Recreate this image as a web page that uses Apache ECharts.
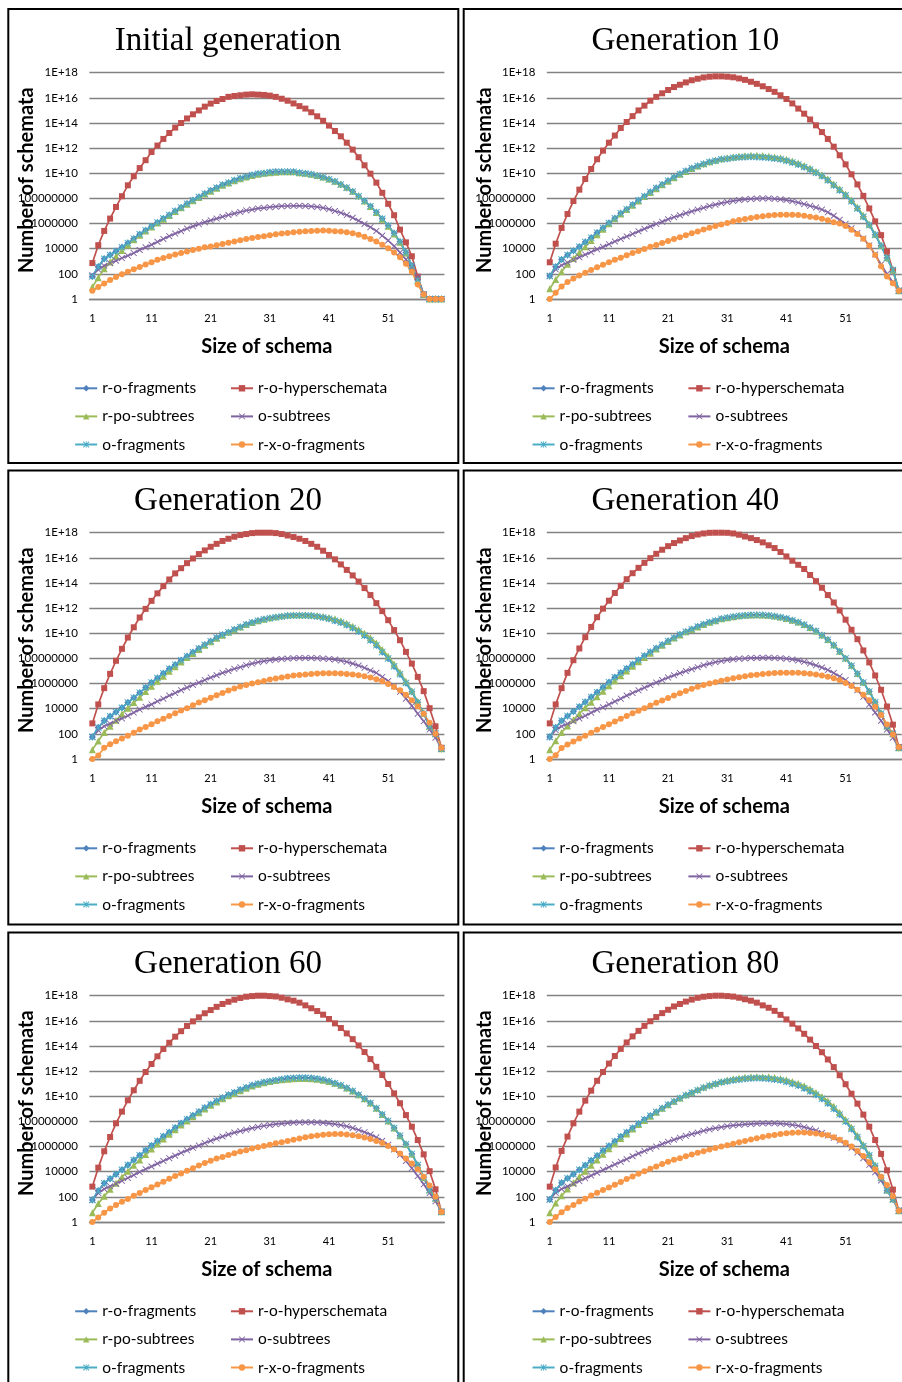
<!DOCTYPE html>
<html>
<head>
<meta charset="utf-8">
<script src="https://cdn.jsdelivr.net/npm/echarts@6/dist/echarts.min.js"></script>
<style>
  html, body { margin: 0; padding: 0; background: #fff; overflow: hidden; }
  #chart { width: 902px; height: 1382px; }
</style>
</head>
<body>
<div id="chart"></div>
<script>
// Schema sizes on the x axis
const sizes = ['1','2','3','4','5','6','7','8','9','10','11','12','13','14','15','16','17','18','19','20',
  '21','22','23','24','25','26','27','28','29','30','31','32','33','34','35','36','37','38','39','40',
  '41','42','43','44','45','46','47','48','49','50','51','52','53','54','55','56','57','58','59','60'];

// Tick labels of the logarithmic y axis (one every two decades)
const yTickLabels = ['1','100','10000','1000000','100000000','1E+10','1E+12','1E+14','1E+16','1E+18'];

const panelTitles = ['Initial generation','Generation 10','Generation 20','Generation 40','Generation 60','Generation 80'];
const seriesNames = ['r-o-fragments','r-o-hyperschemata','r-po-subtrees','o-subtrees','o-fragments','r-x-o-fragments'];

// ---- Initial generation ----
const hyperInit = [7.2e2,1.9e4,2.6e5,2.5e6,2.1e7,1.5e8,1.1e9,5.8e9,2.6e10,1.1e11,
  4.9e11,1.6e12,5.4e12,1.6e13,4.3e13,1.0e14,2.3e14,4.9e14,1.0e15,2.0e15,
  3.5e15,5.6e15,8.1e15,1.2e16,1.4e16,1.6e16,1.8e16,1.9e16,1.8e16,1.7e16,
  1.5e16,1.2e16,8.5e15,5.9e15,3.6e15,2.2e15,1.4e15,7.1e14,3.4e14,1.5e14,
  6.2e13,2.3e13,8.7e12,2.7e12,7.6e11,1.9e11,4.3e10,9.3e9,1.8e9,2.8e8,
  3.7e7,4.6e6,3.3e5,3.2e4,2.5e3,60,2.3,1,1,1];
const oFragInit = [63,370,1600,3200,6300,1.3e4,2.8e4,6.3e4,1.4e5,2.9e5,
  5.8e5,1.2e6,2.5e6,4.8e6,1.0e7,1.9e7,3.8e7,7.1e7,1.3e8,2.4e8,
  4.2e8,7.1e8,1.2e9,1.8e9,2.8e9,4.0e9,5.4e9,7.2e9,9.1e9,1.0e10,
  1.2e10,1.3e10,1.35e10,1.35e10,1.3e10,1.1e10,9.8e9,8.3e9,6.5e9,4.8e9,
  3.3e9,2.2e9,1.3e9,7.2e8,3.5e8,1.5e8,6.3e7,2.4e7,7.9e6,2.4e6,
  6.6e5,1.7e5,3.5e4,5.0e3,450,32,2.3,1,1,1];
const poSubInit = [8.9,50,250,890,2500,7100,2.0e4,5.2e4,1.2e5,2.6e5,
  5.4e5,1.1e6,2.2e6,4.4e6,9.1e6,1.8e7,3.5e7,6.5e7,1.2e8,2.2e8,
  3.8e8,6.5e8,1.1e9,1.7e9,2.5e9,3.6e9,5.0e9,6.8e9,8.5e9,1.0e10,
  1.1e10,1.2e10,1.3e10,1.3e10,1.3e10,1.1e10,1.0e10,8.5e9,6.8e9,5.0e9,
  3.5e9,2.3e9,1.4e9,7.8e8,3.7e8,1.6e8,6.3e7,2.3e7,7.6e6,2.2e6,
  6.0e5,1.5e5,3.2e4,4.5e3,400,28,2.3,1,1,1];
const oSubInit = [79,220,450,710,1100,1800,2800,4500,7900,1.3e4,
  2.1e4,3.5e4,6.0e4,1.0e5,1.6e5,2.5e5,4.0e5,6.0e5,8.9e5,1.3e6,
  1.8e6,2.5e6,3.5e6,4.8e6,6.3e6,8.3e6,1.1e7,1.3e7,1.6e7,1.8e7,
  2.0e7,2.2e7,2.4e7,2.5e7,2.6e7,2.6e7,2.5e7,2.3e7,2.1e7,1.8e7,
  1.4e7,1.0e7,7.2e6,4.7e6,2.9e6,1.7e6,9.3e5,5.2e5,2.6e5,1.1e5,
  4.5e4,1.6e4,5.0e3,1.4e3,320,56,2.3,1,1,1];
const rxoFragInit = [4.6,8.9,17,32,56,93,150,230,350,560,
  850,1300,1800,2500,3400,4600,6000,7900,1.0e4,1.3e4,
  1.5e4,1.9e4,2.4e4,3.0e4,3.8e4,4.8e4,5.9e4,7.2e4,8.7e4,1.0e5,
  1.2e5,1.4e5,1.6e5,1.8e5,2.0e5,2.2e5,2.4e5,2.6e5,2.7e5,2.8e5,
  2.7e5,2.5e5,2.3e5,2.0e5,1.7e5,1.3e5,9.1e4,6.0e4,3.7e4,2.1e4,
  1.1e4,5.0e3,2.1e3,630,150,14,2.3,1,1,1];

// ---- Generation 10 ----
const hyper10 = [830,2.5e4,4.5e5,5.8e6,6.2e7,5.0e8,3.5e9,2.2e10,1.3e11,6.3e11,
  2.7e12,1.0e13,4.0e13,1.2e14,3.5e14,1.0e15,2.4e15,5.9e15,1.2e16,2.3e16,
  4.2e16,7.2e16,1.1e17,1.7e17,2.5e17,3.3e17,4.2e17,4.8e17,5.1e17,5.1e17,
  4.8e17,4.3e17,3.5e17,2.7e17,1.9e17,1.3e17,8.3e16,5.0e16,3.0e16,1.6e16,
  8.1e15,3.6e15,1.4e15,5.5e14,1.9e14,6.5e13,1.9e13,5.4e12,1.3e12,2.7e11,
  5.1e10,8.3e9,1.3e9,1.6e8,1.6e7,1.5e6,1.2e5,6.0e3,190,4.5];
const oFrag10 = [68,370,1400,3200,6900,1.4e4,3.4e4,7.6e4,1.9e5,4.5e5,
  1.1e6,2.6e6,6.5e6,1.4e7,3.2e7,7.1e7,1.5e8,3.2e8,6.8e8,1.3e9,
  2.6e9,4.8e9,8.7e9,1.5e10,2.5e10,3.8e10,5.5e10,7.9e10,1.0e11,1.3e11,
  1.4e11,1.7e11,1.9e11,2.0e11,2.1e11,2.0e11,1.9e11,1.7e11,1.5e11,1.3e11,
  1.0e11,7.2e10,5.0e10,3.2e10,2.0e10,1.1e10,6.0e9,2.8e9,1.1e9,4.5e8,
  1.8e8,6.0e7,1.6e7,3.5e6,7.6e5,1.3e5,1.7e4,1.8e3,200,4.5];
const poSub10 = [6.6,36,150,580,1700,5100,1.4e4,4.5e4,1.3e5,3.5e5,
  9.5e5,2.4e6,5.8e6,1.3e7,2.8e7,6.3e7,1.4e8,2.9e8,6.0e8,1.2e9,
  2.3e9,4.5e9,8.3e9,1.4e10,2.4e10,3.8e10,5.6e10,8.3e10,1.1e11,1.4e11,
  1.7e11,2.0e11,2.3e11,2.5e11,2.7e11,2.7e11,2.6e11,2.3e11,2.0e11,1.7e11,
  1.3e11,9.5e10,6.6e10,4.2e10,2.6e10,1.4e10,7.6e9,3.5e9,1.4e9,5.8e8,
  2.2e8,7.4e7,2.0e7,4.5e6,8.9e5,1.4e5,1.8e4,1.9e3,200,4.5];
const oSub10 = [68,230,480,790,1300,2100,3400,5400,8900,1.4e4,
  2.3e4,3.8e4,6.0e4,9.5e4,1.5e5,2.4e5,3.8e5,6.0e5,9.3e5,1.4e6,
  2.2e6,3.2e6,4.6e6,6.6e6,9.3e6,1.3e7,1.8e7,2.5e7,3.2e7,4.2e7,
  5.2e7,6.3e7,7.4e7,8.3e7,9.1e7,9.8e7,1.0e8,1.0e8,9.3e7,8.5e7,
  7.4e7,6.0e7,4.7e7,3.5e7,2.6e7,1.9e7,1.3e7,7.9e6,4.2e6,2.0e6,
  9.5e5,4.2e5,1.8e5,6.6e4,1.8e4,3.5e3,560,100,22,4.5];
const rxoFrag10 = [1,3.2,10,22,42,74,120,200,330,520,
  830,1300,1900,3000,4500,6600,9500,1.4e4,2.0e4,2.9e4,
  4.2e4,5.9e4,8.3e4,1.2e5,1.7e5,2.3e5,3.3e5,4.6e5,6.3e5,8.5e5,
  1.1e6,1.5e6,1.9e6,2.3e6,2.8e6,3.3e6,3.8e6,4.3e6,4.7e6,5.0e6,
  5.1e6,5.0e6,4.7e6,4.2e6,3.5e6,3.0e6,2.4e6,1.8e6,1.3e6,1.0e6,
  6.3e5,3.2e5,1.5e5,6.3e4,1.8e4,3.2e3,400,63,18,4.5];

// ---- Generation 20 ----
const hyper20 = [680,2.2e4,4.3e5,5.9e6,6.5e7,5.8e8,4.6e9,3.0e10,1.8e11,8.7e11,
  3.8e12,1.5e13,5.6e13,1.9e14,5.8e14,1.5e15,3.8e15,8.9e15,2.0e16,3.9e16,
  7.6e16,1.3e17,2.2e17,3.3e17,4.8e17,6.5e17,7.8e17,9.3e17,1.0e18,1.0e18,
  1.0e18,9.3e17,7.8e17,6.0e17,4.5e17,3.3e17,2.2e17,1.3e17,7.6e16,3.7e16,
  1.7e16,7.6e15,3.0e15,1.1e15,4.0e14,1.3e14,3.9e13,1.1e13,2.5e12,5.8e11,
  1.1e11,1.8e10,2.8e9,3.3e8,3.9e7,3.4e6,2.5e5,1.1e4,400,7.9];
const oFrag20 = [56,320,1100,2500,5500,1.2e4,3.1e4,7.6e4,1.9e5,4.8e5,
  1.2e6,2.8e6,6.6e6,1.5e7,3.2e7,7.2e7,1.5e8,3.1e8,6.2e8,1.2e9,
  2.3e9,4.4e9,7.6e9,1.2e10,2.0e10,3.2e10,5.0e10,7.2e10,9.8e10,1.3e11,
  1.6e11,1.9e11,2.2e11,2.5e11,2.6e11,2.6e11,2.6e11,2.5e11,2.2e11,1.8e11,
  1.4e11,1.0e11,7.2e10,4.5e10,2.6e10,1.4e10,6.6e9,2.8e9,1.1e9,3.3e8,
  9.8e7,2.4e7,5.5e6,1.1e6,2.2e5,3.2e4,4.1e3,400,100,6.6];
const poSub20 = [5.5,27,130,400,1200,3800,1.1e4,3.1e4,8.1e4,2.3e5,
  6.2e5,1.5e6,3.8e6,9.5e6,2.2e7,5.2e7,1.2e8,2.5e8,5.1e8,1.1e9,
  2.1e9,4.0e9,7.1e9,1.2e10,1.9e10,3.1e10,4.9e10,7.2e10,1.0e11,1.3e11,
  1.7e11,2.1e11,2.5e11,2.8e11,3.0e11,3.0e11,3.0e11,2.9e11,2.6e11,2.2e11,
  1.8e11,1.4e11,9.8e10,6.3e10,3.7e10,2.0e10,1.0e10,4.4e9,1.7e9,5.2e8,
  1.5e8,3.6e7,7.9e6,1.5e6,2.6e5,3.7e4,4.3e3,400,100,6.6];
const oSub20 = [56,190,400,650,1100,1700,2800,4900,8500,1.4e4,
  2.2e4,3.9e4,6.3e4,1.1e5,1.8e5,3.0e5,4.8e5,7.8e5,1.2e6,1.9e6,
  3.0e6,4.6e6,7.1e6,1.0e7,1.5e7,2.0e7,2.9e7,3.9e7,5.0e7,6.0e7,
  7.2e7,8.1e7,9.1e7,9.8e7,1.05e8,1.1e8,1.1e8,1.1e8,1.05e8,9.8e7,
  9.1e7,8.1e7,6.8e7,5.4e7,3.9e7,2.7e7,1.8e7,1.1e7,7.1e6,3.4e6,
  1.6e6,6.2e5,2.2e5,6.3e4,1.7e4,4.0e3,1.0e3,220,50,6.6];
const rxoFrag20 = [1,1.9,7.9,15,26,42,72,120,220,350,
  580,1000,1600,2600,4400,7100,1.1e4,1.9e4,3.1e4,4.7e4,
  7.6e4,1.2e5,1.8e5,2.8e5,4.0e5,5.8e5,7.8e5,1.0e6,1.3e6,1.6e6,
  2.1e6,2.5e6,3.0e6,3.6e6,4.4e6,4.9e6,5.2e6,5.9e6,6.3e6,6.6e6,
  6.6e6,6.6e6,6.3e6,5.9e6,5.2e6,4.6e6,3.8e6,3.0e6,2.2e6,1.5e6,
  9.3e5,5.4e5,3.0e5,1.3e5,4.7e4,1.6e4,4.0e3,780,100,7.9];

// ---- Generation 40 ----
const hyper40 = [680,2.2e4,4.3e5,7.1e6,7.2e7,6.2e8,4.9e9,3.2e10,1.9e11,9.1e11,
  3.9e12,1.6e13,5.9e13,2.0e14,6.0e14,1.6e15,4.0e15,9.5e15,2.1e16,4.4e16,
  8.5e16,1.5e17,2.4e17,3.7e17,5.4e17,7.2e17,8.7e17,9.8e17,1.0e18,1.0e18,
  9.8e17,8.7e17,6.9e17,5.0e17,3.7e17,2.6e17,1.7e17,1.0e17,6.0e16,2.9e16,
  1.3e16,5.9e15,2.8e15,1.3e15,4.3e14,1.4e14,4.2e13,1.1e13,2.8e12,6.5e11,
  1.2e11,1.9e10,3.4e9,4.3e8,4.8e7,4.4e6,3.2e5,1.5e4,540,9.1];
const oFrag40 = [56,320,1100,2600,5900,1.4e4,3.4e4,8.5e4,2.0e5,5.2e5,
  1.3e6,3.2e6,7.2e6,1.6e7,3.5e7,7.6e7,1.6e8,3.2e8,6.3e8,1.2e9,
  2.4e9,4.5e9,7.9e9,1.3e10,2.1e10,3.4e10,5.2e10,7.6e10,1.0e11,1.4e11,
  1.7e11,2.1e11,2.4e11,2.6e11,2.8e11,2.8e11,2.8e11,2.6e11,2.3e11,1.9e11,
  1.5e11,1.1e11,7.6e10,4.8e10,2.8e10,1.5e10,7.1e9,3.0e9,1.1e9,3.6e8,
  1.0e8,2.6e7,6.0e6,1.2e6,2.3e5,3.3e4,4.2e3,400,100,7.9];
const poSub40 = [5.5,28,130,420,1300,4000,1.2e4,3.3e4,8.9e4,2.5e5,
  6.8e5,1.7e6,4.2e6,1.0e7,2.4e7,5.5e7,1.2e8,2.6e8,5.5e8,1.1e9,
  2.2e9,4.2e9,7.4e9,1.3e10,2.0e10,3.2e10,5.0e10,7.4e10,1.0e11,1.4e11,
  1.7e11,2.1e11,2.5e11,2.8e11,2.9e11,3.0e11,2.9e11,2.7e11,2.4e11,2.0e11,
  1.5e11,1.1e11,7.9e10,5.0e10,2.9e10,1.5e10,7.4e9,3.2e9,1.2e9,3.8e8,
  1.1e8,2.8e7,6.3e6,1.3e6,2.4e5,3.5e4,4.3e3,400,100,7.9];
const oSub40 = [56,200,400,630,1000,1700,2800,4800,8300,1.3e4,
  2.2e4,3.8e4,6.3e4,1.1e5,1.8e5,2.9e5,4.7e5,7.6e5,1.2e6,1.9e6,
  3.0e6,4.5e6,6.8e6,1.0e7,1.4e7,2.0e7,2.9e7,3.9e7,5.0e7,6.2e7,
  7.4e7,8.5e7,9.5e7,1.0e8,1.1e8,1.1e8,1.15e8,1.15e8,1.1e8,1.05e8,
  9.5e7,8.3e7,6.9e7,5.4e7,4.0e7,2.8e7,1.9e7,1.2e7,6.9e6,3.7e6,
  1.9e6,7.9e5,3.0e5,8.9e4,2.2e4,5.0e3,1.1e3,220,50,7.9];
const rxoFrag40 = [1,2.0,7.6,14,25,42,71,120,210,350,
  580,980,1600,2600,4300,6900,1.1e4,1.8e4,3.0e4,4.6e4,
  7.2e4,1.1e5,1.7e5,2.6e5,3.8e5,5.5e5,7.6e5,1.0e6,1.3e6,1.7e6,
  2.1e6,2.6e6,3.2e6,3.8e6,4.5e6,5.1e6,5.8e6,6.3e6,6.8e6,7.1e6,
  7.2e6,7.2e6,7.1e6,6.6e6,6.0e6,5.2e6,4.4e6,3.5e6,2.6e6,1.8e6,
  1.1e6,6.3e5,3.2e5,1.3e5,4.8e4,1.4e4,3.2e3,560,89,9.1];

// ---- Generation 60 ----
const hyper60 = [650,2.1e4,4.2e5,5.8e6,7.1e7,6.0e8,4.8e9,3.0e10,1.7e11,8.5e11,
  3.7e12,1.5e13,5.8e13,1.8e14,5.5e14,1.5e15,3.9e15,9.1e15,1.9e16,4.0e16,
  7.2e16,1.3e17,2.2e17,3.3e17,4.8e17,6.6e17,8.3e17,9.3e17,1.0e18,1.0e18,
  9.3e17,8.7e17,6.9e17,5.1e17,4.0e17,2.8e17,1.7e17,1.0e17,6.0e16,3.1e16,
  1.4e16,6.3e15,2.7e15,1.0e15,3.5e14,1.1e14,3.3e13,9.1e12,2.2e12,4.9e11,
  9.5e10,1.7e10,2.8e9,3.2e8,3.8e7,3.3e6,2.4e5,1.1e4,400,6.6];
const oFrag60 = [56,310,1200,2800,6200,1.4e4,3.4e4,8.5e4,2.0e5,5.0e5,
  1.2e6,2.8e6,6.5e6,1.4e7,3.2e7,7.1e7,1.5e8,3.0e8,6.0e8,1.2e9,
  2.3e9,4.2e9,7.8e9,1.3e10,2.0e10,3.3e10,5.1e10,7.4e10,1.0e11,1.3e11,
  1.6e11,1.9e11,2.3e11,2.7e11,2.8e11,3.0e11,3.0e11,2.8e11,2.5e11,2.1e11,
  1.6e11,1.1e11,7.4e10,4.6e10,2.6e10,1.3e10,6.5e9,2.9e9,1.1e9,3.6e8,
  1.1e8,3.0e7,7.4e6,1.5e6,2.6e5,3.4e4,3.5e3,350,79,6.6];
const poSub60 = [5.5,30,110,400,1200,3800,1.1e4,3.2e4,8.5e4,2.3e5,
  6.3e5,1.6e6,4.0e6,9.5e6,2.2e7,5.1e7,1.1e8,2.4e8,4.9e8,9.8e8,
  1.9e9,3.5e9,6.5e9,1.1e10,1.7e10,2.8e10,4.4e10,6.5e10,8.9e10,1.2e11,
  1.5e11,1.8e11,2.1e11,2.3e11,2.5e11,2.6e11,2.6e11,2.5e11,2.3e11,1.9e11,
  1.5e11,1.1e11,7.4e10,4.6e10,2.6e10,1.3e10,6.5e9,2.9e9,1.1e9,3.6e8,
  1.1e8,3.0e7,7.4e6,1.5e6,2.6e5,3.4e4,3.5e3,350,79,6.6];
const oSub60 = [56,200,420,690,1100,1900,3200,5400,9300,1.6e4,
  2.6e4,4.4e4,7.2e4,1.2e5,1.9e5,3.2e5,5.0e5,7.9e5,1.2e6,1.9e6,
  2.9e6,4.3e6,6.3e6,9.1e6,1.3e7,1.7e7,2.2e7,2.9e7,3.6e7,4.5e7,
  5.2e7,6.0e7,6.8e7,7.4e7,7.9e7,8.3e7,8.5e7,8.5e7,8.3e7,7.8e7,
  7.1e7,6.2e7,5.1e7,4.1e7,3.0e7,2.1e7,1.4e7,9.1e6,5.4e6,2.9e6,
  1.4e6,5.9e5,2.2e5,7.1e4,1.9e4,4.5e3,1.0e3,200,45,6.6];
const rxoFrag60 = [1,2.3,5.5,12,22,40,69,120,200,350,
  580,980,1600,2700,4500,7200,1.2e4,1.9e4,3.1e4,4.9e4,
  7.6e4,1.1e5,1.5e5,2.1e5,2.9e5,4.0e5,5.2e5,6.9e5,8.9e5,1.1e6,
  1.4e6,1.8e6,2.2e6,2.8e6,3.5e6,4.4e6,5.4e6,6.5e6,7.6e6,8.7e6,
  9.5e6,1.0e7,9.8e6,9.1e6,7.9e6,6.6e6,5.2e6,4.0e6,2.8e6,1.9e6,
  1.1e6,6.0e5,2.8e5,1.1e5,4.5e4,1.6e4,4.0e3,790,100,6.6];

// ---- Generation 80 ----
const hyper80 = [650,2.2e4,4.5e5,6.2e6,7.1e7,6.0e8,4.5e9,2.8e10,1.7e11,8.5e11,
  4.0e12,1.6e13,5.9e13,1.9e14,5.8e14,1.6e15,4.0e15,9.3e15,2.0e16,4.1e16,
  7.6e16,1.4e17,2.2e17,3.4e17,4.9e17,6.8e17,8.3e17,9.3e17,1.0e18,1.0e18,
  9.3e17,8.5e17,6.9e17,5.2e17,4.0e17,2.8e17,1.7e17,1.1e17,6.2e16,3.0e16,
  1.3e16,5.9e15,2.5e15,9.3e14,3.2e14,1.0e14,3.2e13,8.5e12,2.1e12,4.7e11,
  9.1e10,1.6e10,2.6e9,3.5e8,3.8e7,3.3e6,2.6e5,1.3e4,380,7.9];
const oFrag80 = [63,340,1300,3000,6300,1.4e4,3.3e4,7.9e4,1.9e5,4.6e5,
  1.1e6,2.6e6,6.2e6,1.4e7,3.0e7,6.6e7,1.4e8,2.8e8,5.6e8,1.1e9,
  2.1e9,3.9e9,7.1e9,1.2e10,1.9e10,3.0e10,4.7e10,6.9e10,9.5e10,1.3e11,
  1.6e11,1.9e11,2.2e11,2.5e11,2.7e11,2.8e11,2.7e11,2.5e11,2.2e11,1.9e11,
  1.4e11,1.0e11,7.1e10,4.4e10,2.5e10,1.3e10,6.3e9,2.8e9,1.0e9,3.5e8,
  1.0e8,2.5e7,5.8e6,1.1e6,2.0e5,2.8e4,3.2e3,320,63,7.9];
const poSub80 = [5.5,32,120,420,1300,4000,1.1e4,3.2e4,8.7e4,2.4e5,
  6.6e5,1.7e6,4.3e6,1.0e7,2.5e7,5.6e7,1.2e8,2.6e8,5.4e8,1.1e9,
  2.1e9,4.0e9,7.2e9,1.3e10,2.1e10,3.4e10,5.4e10,8.1e10,1.1e11,1.5e11,
  2.0e11,2.5e11,2.9e11,3.2e11,3.5e11,3.6e11,3.6e11,3.5e11,3.1e11,2.6e11,
  2.1e11,1.5e11,1.1e11,6.8e10,3.9e10,2.0e10,9.8e9,4.2e9,1.6e9,5.1e8,
  1.4e8,3.5e7,7.6e6,1.4e6,2.3e5,3.2e4,3.5e3,350,71,7.9];
const oSub80 = [63,210,420,680,1100,1800,3000,4900,8300,1.4e4,
  2.3e4,3.8e4,6.3e4,1.0e5,1.7e5,2.8e5,4.4e5,6.8e5,1.0e6,1.6e6,
  2.4e6,3.5e6,5.1e6,7.2e6,1.0e7,1.3e7,1.8e7,2.3e7,2.9e7,3.5e7,
  4.2e7,4.8e7,5.4e7,5.9e7,6.3e7,6.8e7,7.1e7,7.1e7,7.1e7,6.8e7,
  6.2e7,5.4e7,4.5e7,3.5e7,2.6e7,1.9e7,1.2e7,7.6e6,5.0e6,3.0e6,
  1.7e6,7.9e5,3.3e5,1.2e5,3.5e4,8.9e3,2.0e3,350,63,7.9];
const rxoFrag80 = [1,2.5,6.0,13,23,42,72,130,210,350,
  560,930,1500,2600,4200,6800,1.1e4,1.7e4,2.6e4,4.1e4,
  6.3e4,8.9e4,1.2e5,1.7e5,2.3e5,3.2e5,4.3e5,5.8e5,7.6e5,1.0e6,
  1.3e6,1.7e6,2.2e6,2.8e6,3.6e6,4.6e6,5.8e6,7.1e6,8.5e6,1.0e7,
  1.15e7,1.26e7,1.3e7,1.3e7,1.2e7,1.1e7,9.3e6,7.9e6,5.6e6,3.5e6,
  2.0e6,1.0e6,4.5e5,1.8e5,5.6e4,1.6e4,4.0e3,890,110,7.9];

// r-o-fragments coincide with o-fragments in every generation
const panelData = [
  [oFragInit, hyperInit, poSubInit, oSubInit, oFragInit, rxoFragInit],
  [oFrag10,   hyper10,   poSub10,   oSub10,   oFrag10,   rxoFrag10],
  [oFrag20,   hyper20,   poSub20,   oSub20,   oFrag20,   rxoFrag20],
  [oFrag40,   hyper40,   poSub40,   oSub40,   oFrag40,   rxoFrag40],
  [oFrag60,   hyper60,   poSub60,   oSub60,   oFrag60,   rxoFrag60],
  [oFrag80,   hyper80,   poSub80,   oSub80,   oFrag80,   rxoFrag80]
];

// ---- styling ----
const colors = ['#4F81BD', '#C0504D', '#9BBB59', '#8064A2', '#4BACC6', '#F79646'];
const crossPath = 'path://M0,1L1,0L5,4L9,0L10,1L6,5L10,9L9,10L5,6L1,10L0,9L4,5Z';
const starPath = 'path://M0,1L1,0L5,4L9,0L10,1L6,5L10,9L9,10L5,6L1,10L0,9L4,5Z M4.4,0L5.6,0L5.6,10L4.4,10Z';
const symbols = ['diamond', 'rect', 'triangle', crossPath, starPath, 'circle'];
const symbolSizes = [7, 6, 7, 6.5, 7, 6];
const legendCols = [
  ['r-o-fragments', 'r-po-subtrees', 'o-fragments'],
  ['r-o-hyperschemata', 'o-subtrees', 'r-x-o-fragments']
];

// ---- layout ----
const colPlotLeft = [89.4, 546.8];
const rowPlotTop = [72.7, 532.7, 995.7];
const plotW = 355, plotH = 226.3;
const colBoxX = [8.3, 463.7];
const rowBoxY = [9, 470.5, 932.5];
const boxW = 450, boxH = 454;
const baseFont = 'Lato';
const gridColor = '#828282';

const grids = [], xAxes = [], yAxes = [], series = [], legends = [], graphics = [];

panelTitles.forEach((title, p) => {
  const col = p % 2, row = Math.floor(p / 2);
  const left = colPlotLeft[col], top = rowPlotTop[row];
  const bottom = top + plotH;

  grids.push({ left: left, top: top, width: plotW, height: plotH, containLabel: false });

  xAxes.push({
    type: 'category', gridIndex: p, data: sizes, boundaryGap: true,
    axisTick: { show: false },
    axisLine: { show: true, lineStyle: { color: gridColor, width: 1.3 } },
    axisLabel: { interval: 9, color: '#000', fontFamily: baseFont, fontSize: 11, margin: 13.5 },
    splitLine: { show: false }
  });

  yAxes.push({
    type: 'log', logBase: 100, gridIndex: p, min: 1, max: 1e18, splitNumber: 9,
    axisLine: { show: false }, axisTick: { show: false },
    splitLine: { show: true, lineStyle: { color: gridColor, width: 1.3 } },
    axisLabel: {
      color: '#000', fontFamily: baseFont, fontSize: 11.5, margin: 11.5,
      formatter: v => yTickLabels[Math.round(Math.log10(v) / 2)]
    }
  });

  panelData[p].forEach((values, s) => {
    series.push({
      type: 'line', name: seriesNames[s], xAxisIndex: p, yAxisIndex: p,
      data: values, symbol: symbols[s], symbolSize: symbolSizes[s],
      showSymbol: true, showAllSymbol: true,
      lineStyle: { width: 1.7, color: colors[s] },
      itemStyle: { color: colors[s] },
      emphasis: { disabled: true }, animation: false
    });
  });

  legendCols.forEach((names, c) => {
    legends.push({
      orient: 'vertical', padding: 0,
      left: left + (c === 0 ? -15.2 : 140.6), top: bottom + 81.3,
      itemWidth: 22, itemHeight: 8, itemGap: 12.1,
      data: names,
      textStyle: { fontFamily: baseFont, fontSize: 15.5, color: '#000', lineHeight: 15 }
    });
  });

  // panel frame
  graphics.push({
    type: 'rect', silent: true,
    shape: { x: colBoxX[col], y: rowBoxY[row], width: boxW, height: boxH },
    style: { fill: 'none', stroke: '#000', lineWidth: 2 }
  });
  // panel title
  graphics.push({
    type: 'text', x: left + 138.6, y: top - 31.5,
    style: { text: title, fill: '#000', font: '33px "Liberation Serif"', align: 'center', verticalAlign: 'middle' }
  });
  // y axis title
  graphics.push({
    type: 'text', x: left - 62.4, y: top + 107.5, rotation: Math.PI / 2,
    style: { text: 'Number of schemata', fill: '#000', font: 'bold 20px Lato', align: 'center', verticalAlign: 'middle' }
  });
  // x axis title
  graphics.push({
    type: 'text', x: left + 177.5, y: bottom + 48,
    style: { text: 'Size of schema', fill: '#000', font: 'bold 20px Lato', align: 'center', verticalAlign: 'middle' }
  });
});

const chart = echarts.init(document.getElementById('chart'), null, { renderer: 'canvas' });
chart.setOption({
  animation: false,
  backgroundColor: '#fff',
  textStyle: { fontFamily: baseFont },
  grid: grids,
  xAxis: xAxes,
  yAxis: yAxes,
  legend: legends,
  series: series,
  graphic: { elements: graphics }
});
</script>
</body>
</html>
